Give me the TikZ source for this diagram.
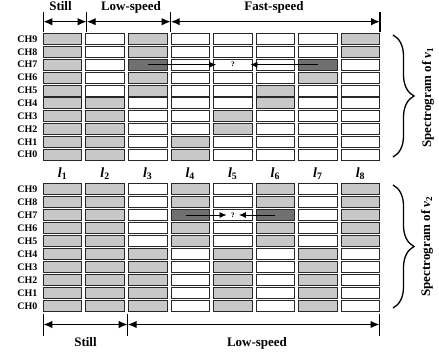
\documentclass[tikz,border=0pt]{standalone}
\usepackage{fontspec}
\setmainfont{Liberation Serif}
\usetikzlibrary{arrows.meta,decorations.pathreplacing}
\definecolor{W}{RGB}{255,255,255}
\definecolor{G}{RGB}{200,200,200}
\definecolor{D}{RGB}{112,112,112}
\definecolor{edge}{RGB}{40,40,40}
\begin{document}
\begin{tikzpicture}[x=1pt,y=-1pt,
 cell/.style={draw=edge, line width=0.8pt, minimum width=38.5pt, minimum height=11pt, inner sep=0pt, outer sep=0pt},
 chlab/.style={font=\fontsize{10}{12}\selectfont\bfseries, anchor=east, inner sep=0pt},
 rnglab/.style={font=\fontsize{13}{15}\selectfont\bfseries, anchor=base, inner sep=0pt},
 collab/.style={font=\fontsize{14}{16}\selectfont\bfseries\itshape, anchor=base, inner sep=0pt},
 rng/.style={line width=1.4pt, {Latex[length=9pt,width=7.5pt]}-{Latex[length=9pt,width=7.5pt]}},
 tickline/.style={line width=1.4pt},
 ptr/.style={line width=0.8pt, -{Latex[length=7pt,width=6pt]}},
 brc/.style={decorate, decoration={brace, amplitude=21pt}, line width=1.3pt},
 spec/.style={font=\fontsize{13}{15}\selectfont\bfseries, rotate=90, inner sep=0pt},
 qm/.style={font=\fontsize{7}{8}\selectfont\bfseries, inner sep=0pt}
]
\useasboundingbox (0,0) rectangle (439,356);

% top spectrogram
\foreach \c/\pat in {1/{G,G,G,G,G,G,G,G,G,G},
                     2/{W,W,W,W,W,G,G,G,G,G},
                     3/{G,G,D,G,G,W,W,W,W,W},
                     4/{W,W,W,W,W,W,W,W,G,G},
                     5/{W,W,W,W,W,W,G,G,W,W},
                     6/{W,W,W,W,G,G,W,W,W,W},
                     7/{W,W,D,G,W,W,W,W,W,W},
                     8/{G,G,W,W,W,W,W,W,W,W}}{
  \foreach \f [count=\r] in \pat {
    \node[cell, fill=\f] (t\c-\r) at ({62.55+42.55*(\c-1)}, {39+12.85*(\r-1)}) {};
  }
}
% bottom spectrogram
\foreach \c/\pat in {1/{G,G,G,G,G,G,G,G,G,G},
                     2/{G,G,G,G,G,G,G,G,G,G},
                     3/{W,W,W,W,W,G,G,G,G,G},
                     4/{G,G,D,G,G,W,W,W,W,W},
                     5/{W,W,W,W,W,G,G,G,G,G},
                     6/{G,G,D,G,G,W,W,W,W,W},
                     7/{W,W,W,W,W,G,G,G,G,G},
                     8/{G,G,G,G,G,W,W,W,W,W}}{
  \foreach \f [count=\r] in \pat {
    \node[cell, fill=\f] (b\c-\r) at ({62.55+42.55*(\c-1)}, {189.05+12.97*(\r-1)}) {};
  }
}
% channel labels
\foreach \r in {1,...,10}{
  \pgfmathtruncatemacro\ch{10-\r}
  \node[chlab] (lt\r) at (37.5, {39+12.85*(\r-1)}) {CH\ch};
  \node[chlab] (lb\r) at (37.5, {189.05+12.97*(\r-1)}) {CH\ch};
}
% column labels
\foreach \c in {1,...,8}{
  \node[collab] (l\c) at ({62.55+42.55*(\c-1)}, 177) {l\textsubscript{\upshape\bfseries\c}};
}

% top ranges
\coordinate (s0) at (43.3,21.7);
\coordinate (s1) at (86.7,21.7);
\coordinate (s2) at (170.7,21.7);
\coordinate (s3) at (380,21.7);
\foreach \k in {0,...,3} \draw[tickline] (s\k) ++(0,-10) -- ++(0,20);
\draw[rng] (s0) -- (s1);
\draw[rng] (s1) -- (s2);
\draw[rng] (s2) -- (s3);
\node[rnglab] (still1) at (60.5,10.7) {Still};
\node[rnglab] (low1) at (131,10.7) {Low-speed};
\node[rnglab] (fast1) at (274,10.7) {Fast-speed};

% bottom ranges
\coordinate (u0) at (43.3,324.5);
\coordinate (u1) at (127.7,324.5);
\coordinate (u2) at (379.5,324.5);
\foreach \k in {0,...,2} \draw[tickline] (u\k) ++(0,-11) -- ++(0,22);
\draw[rng] (u0) -- (u1);
\draw[rng] (u1) -- (u2);
\node[rnglab] (still2) at (85.5,346.5) {Still};
\node[rnglab] (low2) at (257,346.5) {Low-speed};

% question arrows
\node[qm] (q1) at (t5-3) {?};
\draw[ptr] (t3-3.center) -- ([xshift=2.7pt]t5-3.west);
\draw[ptr] (t7-3.center) -- ([xshift=-1.6pt]t5-3.east);
\node[qm, minimum width=12pt] (q2) at (b5-3) {?};
\draw[ptr] ([xshift=-4pt]b4-3.center) -- (q2.west);
\draw[ptr] (b6-3.center) -- (q2.east);

% braces
\coordinate (br1a) at (393,35);
\coordinate (br1b) at (393,157);
\draw[brc] (br1a) -- (br1b);
\node[spec] (sp1) at (428,97.5) {Spectrogram of \textit{v}\textsubscript{1}};
\coordinate (br2a) at (393,185);
\coordinate (br2b) at (393,308);
\draw[brc] (br2a) -- (br2b);
\node[spec] (sp2) at (427,246.5) {Spectrogram of \textit{v}\textsubscript{2}};
\end{tikzpicture}
\end{document}
